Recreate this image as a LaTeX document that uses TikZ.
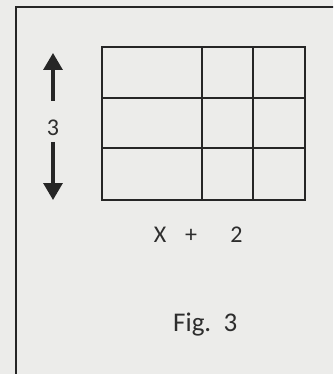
\documentclass[tikz,border=0pt]{standalone}
\usepackage{fontspec}
\setmainfont{Carlito}
\usetikzlibrary{arrows.meta}
\definecolor{paper}{RGB}{236,236,234}
\definecolor{ink}{RGB}{38,38,38}
\definecolor{txt}{RGB}{45,45,45}
\tikzset{
  gridline/.style={draw=ink, line width=1.7pt},
  framel/.style={draw=ink, line width=1.3pt},
  dimarrow/.style={draw=ink, line width=3.2pt, -{Triangle[width=19pt,length=17pt]}},
  lbl/.style={text=txt, inner sep=0pt},
  small/.style={font=\fontsize{24}{27}\selectfont},
  mid/.style={font=\fontsize{24}{28}\selectfont},
  big/.style={font=\fontsize{27}{31}\selectfont},
}
\begin{document}
\begin{tikzpicture}[x=1pt,y=-1pt]
\useasboundingbox (0,0) rectangle (333,374);
\fill[paper] (0,0) rectangle (333,374);
\clip (0,0) rectangle (333,374);
% frame
\draw[framel] (16,380) -- (16,7) -- (340,7);
% grid
\coordinate (g1) at (102,47);
\coordinate (g2) at (305,200);
\draw[gridline] (g1) rectangle (g2);
\draw[gridline] (202,47) -- (202,200);
\draw[gridline] (253,47) -- (253,200);
\draw[gridline] (102,98) -- (305,98);
\draw[gridline] (102,148) -- (305,148);
% dimension
\node[lbl, small, anchor=base] (three) at (53,135.5) {3};
\coordinate (uptip) at (53,53);
\coordinate (dntip) at (53,200);
\coordinate (upstart) at (53,101);
\coordinate (dnstart) at (53,142);
\draw[dimarrow] (upstart) -- (uptip);
\draw[dimarrow] (dnstart) -- (dntip);
% labels
\node[lbl, mid, anchor=base] (xlab) at (160,242) {X};
\node[lbl, mid, anchor=base] (plus) at (191,242) {+};
\node[lbl, mid, anchor=base] (two) at (236.5,242) {2};
\node[lbl, big, anchor=base west] (fig) at (173,331) {Fig.\ \ 3};
\end{tikzpicture}
\end{document}
